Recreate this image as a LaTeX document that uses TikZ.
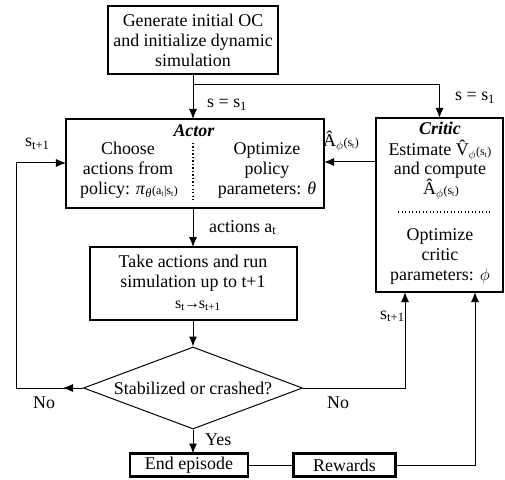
\documentclass[tikz,border=0pt]{standalone}
\usepackage{fontspec}
\setmainfont{Liberation Serif}
\usetikzlibrary{arrows.meta,shapes.geometric}
\newcommand\smallpar[1]{{\fontsize{12}{12}\selectfont(#1)}}
\newcommand\tsub[1]{\textsubscript{#1}}
\newcommand\myphi{$\phi$}
\begin{document}
\begin{tikzpicture}[x=1bp,y=-1bp,
  font=\fontsize{18}{20}\selectfont,
  box/.style={draw,line width=2.2bp,inner sep=0pt,outer sep=0pt},
  conn/.style={line width=1bp},
  arr/.style={conn,-{Latex[length=10bp,width=8bp]}},
  txt/.style={inner sep=0pt,anchor=base},
  lbl/.style={inner sep=0pt,anchor=base west},
  dots/.style={line width=1.3bp,dash pattern=on 1.3bp off 2.2bp}]
\useasboundingbox (0,0) rectangle (505,480);

% ---------- boxes ----------
\node[box,minimum width=170bp,minimum height=68bp] (init) at (193,40) {};
\node[txt] (init1) at (193,27) {Generate initial OC};
\node[txt] (init2) at (193,47) {and initialize dynamic};
\node[txt] (init3) at (193,67) {simulation};

\node[box,minimum width=258bp,minimum height=89bp] (actor) at (195,163.5) {};
\node[txt] (actorT) at (194,137) {\textbf{\textit{Actor}}};
\node[txt] (ac1) at (128,155) {Choose};
\node[txt] (ac2) at (128,175) {actions from};
\node[txt] (ac3) at (129,195) {policy: \textit{π}\tsub{\textit{θ}}\smallpar{a\tsub{t}|s\tsub{t}}};
\node[txt] (ao1) at (267,155) {Optimize};
\node[txt] (ao2) at (267,175) {policy};
\node[txt] (ao3) at (267,195) {parameters: \textit{θ}};
\coordinate (divT) at (193,143);
\coordinate (divB) at (193,201);
\draw[dots] (divT) -- (divB);

\node[box,minimum width=207bp,minimum height=73bp] (sim) at (193.5,283.5) {};
\node[txt] (sim1) at (193,267) {Take actions and run};
\node[txt] (sim2) at (193,287) {simulation up to t+1};
\node[lbl,font=\fontsize{16}{16}\selectfont] (sim3) at (175,308) {s\tsub{t}\kern-1bp→\kern-1bp s\tsub{t+1}};

\node[diamond,draw,conn,minimum width=219bp,minimum height=82bp,inner sep=0pt] (dia) at (193,388) {};
\node[txt] (diaT) at (193,394) {Stabilized or crashed?};

\node[box,minimum width=118bp,minimum height=23bp] (end) at (189,465) {End episode};
\node[box,minimum width=102bp,minimum height=23bp] (rew) at (344.5,465) {Rewards};

\node[box,minimum width=127bp,minimum height=174bp] (crit) at (439.5,205) {};
\node[txt] (crT) at (440,135) {\textbf{\textit{Critic}}};
\node[txt] (cr1) at (440,156) {Estimate \^V\tsub{\myphi}\smallpar{s\tsub{t}}};
\node[txt] (cr2) at (440,175) {and compute};
\node[txt] (cr3) at (441,195) {Â\tsub{\myphi}\smallpar{s\tsub{t}}};
\coordinate (cdL) at (398,212);
\coordinate (cdR) at (490,212);
\draw[dots] (cdL) -- (cdR);
\node[txt] (cr4) at (440,240) {Optimize};
\node[txt] (cr5) at (440,260) {critic};
\node[txt] (cr6) at (440,280) {parameters: \myphi};

% ---------- connectors ----------
\coordinate (br) at (193,85);
\coordinate (yA) at (0,162);
\coordinate (yL) at (0,163);
\coordinate (lx) at (16,0);
\coordinate (ltip) at (63,388);
\coordinate (rx) at (405,0);
\coordinate (rrx) at (475,0);

\draw[arr] (init.south -| br) -- (br |- actor.north);
\draw[arr] (br) -| (crit.north);
\draw[arr] (crit.west |- yA) -- (actor.east |- yA);
\draw[arr] (br |- actor.south) -- (br |- sim.north);
\draw[arr] (br |- sim.south) -- (dia.north);
\draw[arr] (dia.south) -- (dia.south |- end.north);
\draw[conn] (dia.west) -- (lx |- dia.west) -- (lx |- yL);
\draw[arr] (lx |- yL) -- (actor.west |- yL);
\draw[arr] (dia.west) -- (ltip);
\draw[arr] (dia.east) -| (rx |- crit.south);
\draw[conn] (end.east) -- (rew.west);
\draw[arr] (rew.east) -| (rrx |- crit.south);

% ---------- labels ----------
\node[lbl] (l1) at (207,108) {s = s\tsub{1}};
\node[lbl] (l2) at (455,101) {s = s\tsub{1}};
\node[lbl] (l3) at (323,147) {Â\tsub{\myphi}\smallpar{s\tsub{t}}};
\node[lbl] (l4) at (25,147) {s\tsub{t+1}};
\node[lbl] (l5) at (209,232) {actions a\tsub{t}};
\node[lbl] (l6) at (205,445) {Yes};
\node[lbl] (l7) at (33,408) {No};
\node[lbl] (l8) at (327,408) {No};
\node[lbl] (l9) at (380,319) {s\tsub{t+1}};
\end{tikzpicture}
\end{document}
